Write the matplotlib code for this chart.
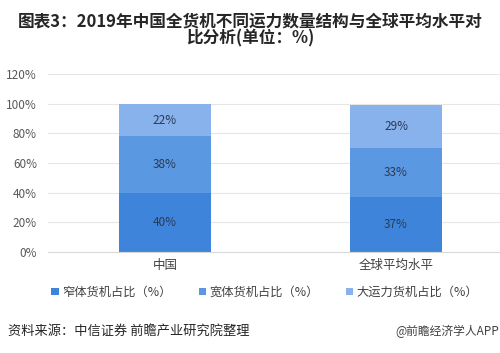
import matplotlib.pyplot as plt
import numpy as np

plt.rcParams['font.family'] = ['Noto Sans CJK SC', 'DejaVu Sans']

# data
categories = ['中国', '全球平均水平']
series_names = ['窄体货机占比（%）', '宽体货机占比（%）', '大运力货机占比（%）']
narrow = [40, 37]
wide = [38, 33]
large = [22, 29]
colors = ['#3f84db', '#5b98e2', '#88b2ec']

fig = plt.figure(figsize=(5, 3.53), dpi=100)
ax = fig.add_axes([0.096, 0.286, 0.904, 0.504])

x = np.arange(len(categories))
bottom = np.zeros(len(categories))
for vals, name, c in zip([narrow, wide, large], series_names, colors):
    ax.bar(x, vals, width=0.4, bottom=bottom, color=c, label=name, zorder=2)
    for xi, v, b in zip(x, vals, bottom):
        ax.text(xi, b + v / 2, f'{v}%', ha='center', va='center',
                fontsize=8.5, color='#2b3a55', zorder=3)
    bottom = bottom + np.array(vals)

ax.set_xlim(-0.506, 1.45)
ax.set_ylim(0, 120)
ax.set_yticks(range(0, 121, 20))
ax.set_yticklabels([f'{v}%' for v in range(0, 121, 20)], fontsize=8.5, color='#595959')
ax.set_xticks(x)
ax.set_xticklabels(categories, fontsize=9, color='#404040')
ax.tick_params(length=0)
ax.tick_params(axis='x', pad=5)
ax.tick_params(axis='y', pad=8)
ax.grid(axis='y', color='#e6e6e6', linewidth=0.8, zorder=0)
for s in ax.spines.values():
    s.set_visible(False)
ax.spines['bottom'].set_visible(True)
ax.spines['bottom'].set_color('#d9d9d9')

fig.legend(loc='center', bbox_to_anchor=(0.53, 0.172), ncol=3, frameon=False,
           fontsize=8.8, handlelength=0.6, handleheight=0.6, handletextpad=0.3,
           columnspacing=2.2, labelcolor='#404040')

fig.text(0.5, 0.965, '图表3：2019年中国全货机不同运力数量结构与全球平均水平对\n比分析(单位：%)',
         ha='center', va='top', fontsize=12, fontweight='bold', color='#262626',
         linespacing=0.95)
fig.text(0.015, 0.062, '资料来源：中信证券 前瞻产业研究院整理', ha='left', va='center',
         fontsize=9.5, color='#262626')
fig.text(0.998, 0.062, '@前瞻经济学人APP', ha='right', va='center',
         fontsize=8.5, color='#404040')

fig.savefig('out.png', dpi=100)
